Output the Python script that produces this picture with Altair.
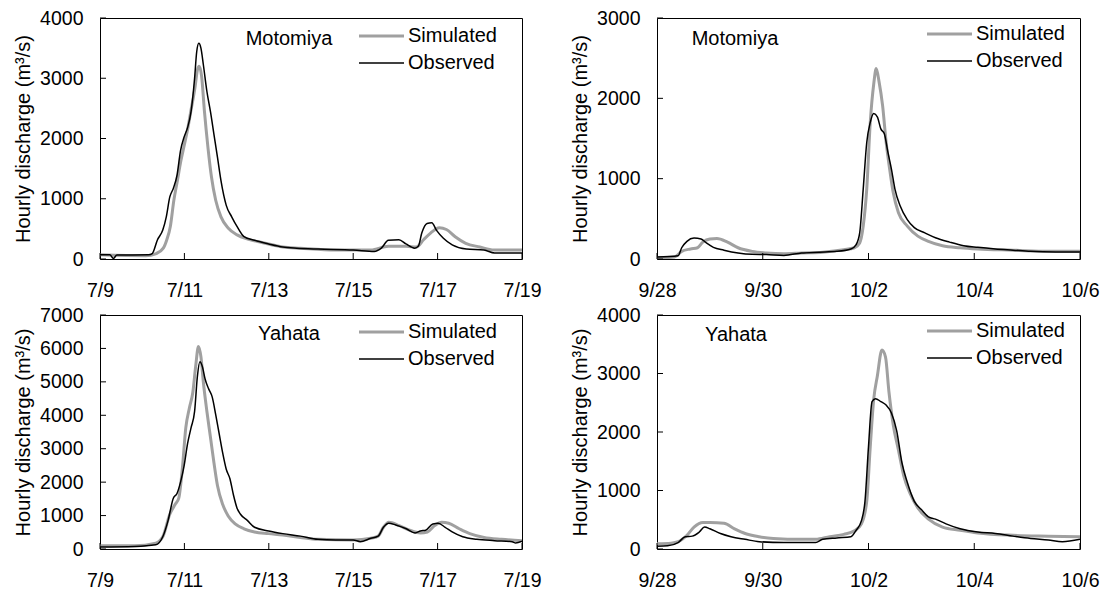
import altair as alt
import pandas as pd

FONT = "Liberation Sans, Arial, sans-serif"
TITLE_Y = "Hourly discharge (m\u00b3/s)"

# ---------------- data (hours from event start, discharge m3/s) ----------------
MOTO_JUL_SIM_H = [0, 26, 32, 36, 38, 40, 42, 44, 46, 48, 50, 52, 54, 55.4, 56.4, 57.8, 59.4, 61.4, 63.4,
                  65.8, 68.8, 73, 78, 84, 92, 104, 114, 134, 154, 164, 174, 180, 184, 188, 193, 197, 202,
                  208, 216, 224, 240]
MOTO_JUL_SIM_Q = [70, 55, 90, 180, 320, 540, 975, 1300, 1630, 1900, 2180, 2510, 2840, 3140, 3200, 3030, 2450,
                  1850, 1360, 975, 700, 510, 400, 330, 275, 200, 180, 150, 150, 210, 210, 200, 320, 430, 520,
                  490, 370, 260, 200, 150, 150]
MOTO_JUL_OBS_H = [0, 5.6, 7.6, 9.6, 27.7, 29.7, 32.7, 35.7, 37.7, 39.7, 41.7, 43.8, 45.8, 47.8, 49.8, 51.8,
                  53.8, 55, 56.2, 57.4, 58.8, 60.8, 62.8, 64.8, 66.8, 68.8, 71.8, 74.9, 77.9, 81.9, 87.9,
                  95.9, 104, 112, 124, 144, 156, 160, 164, 170, 174, 179, 181, 183, 186, 188.7, 191.3, 195.3,
                  200.3, 208.3, 218.4, 224.4, 240]
MOTO_JUL_OBS_Q = [70, 70, 10, 65, 70, 90, 320, 480, 700, 1030, 1170, 1390, 1800, 2020, 2180, 2450, 3000,
                  3440, 3580, 3500, 3220, 2780, 2450, 2070, 1690, 1300, 890, 700, 540, 370, 310, 250, 200,
                  180, 165, 150, 125, 180, 310, 320, 250, 180, 210, 430, 590, 600, 480, 345, 235, 165, 150,
                  100, 100]

MOTO_OCT_SIM_H = [0, 8, 11.2, 15.2, 18.4, 20.8, 24, 27.2, 32, 36.8, 43.2, 49.6, 57.6, 65.6, 75.2, 84.8, 89.6,
                  92, 93.6, 95.2, 96.8, 98.4, 99.5, 100.8, 102.4, 104, 105.6, 107.2, 109.6, 113.6, 118.4,
                  123.2, 129.6, 137.6, 145.6, 161.6, 177.6, 192]
MOTO_OCT_SIM_Q = [12, 25, 95, 125, 140, 210, 250, 255, 210, 140, 95, 75, 65, 75, 85, 115, 140, 200, 410, 870,
                  1700, 2185, 2370, 2205, 1910, 1455, 1120, 830, 575, 410, 285, 220, 165, 140, 125, 110, 95, 95]
MOTO_OCT_OBS_H = [0, 9.6, 11.2, 13.6, 16.8, 20, 22.4, 25.6, 30.4, 36.8, 43.2, 49.6, 57.6, 65.6, 73.6, 81.6,
                  88, 90.4, 92, 93.6, 95.2, 96.8, 98.4, 100, 101.6, 103.2, 104.8, 106.4, 108, 110.4, 113.6,
                  116.8, 121.6, 126.4, 132.8, 139.2, 145.6, 153.6, 161.6, 169.6, 180.8, 192]
MOTO_OCT_OBS_Q = [25, 40, 140, 220, 260, 250, 200, 145, 110, 75, 58, 55, 45, 75, 85, 95, 125, 180, 325, 870,
                  1450, 1700, 1810, 1770, 1620, 1560, 1330, 1120, 870, 660, 490, 390, 325, 265, 210, 165,
                  145, 125, 110, 95, 88, 88]

YAHA_JUL_SIM_H = [0, 19.7, 31.7, 35.7, 39.7, 42.7, 44.8, 46.8, 48.8, 50.8, 52.8, 54.4, 56, 57.4, 58.8, 60.8,
                  62.8, 64.8, 66.8, 69.8, 72.9, 76.9, 81.9, 87.9, 95.9, 104, 114, 124, 144, 154, 158.2, 161.2,
                  164.2, 170.2, 176.2, 182.2, 186.2, 190.3, 194.3, 198.3, 204.3, 210.3, 218.4, 228.4, 240]
YAHA_JUL_SIM_Q = [95, 95, 175, 365, 1040, 1330, 1520, 2385, 3630, 4210, 4690, 5460, 6060, 5750, 4980, 4115,
                  3350, 2580, 1900, 1330, 990, 750, 605, 510, 460, 415, 345, 290, 270, 320, 385, 650, 800,
                  700, 560, 480, 510, 700, 800, 770, 605, 460, 345, 290, 250]
YAHA_JUL_OBS_H = [0, 19.7, 31.7, 35.7, 38.7, 41.7, 43.8, 45.8, 47.8, 49.8, 51.8, 53.8, 55.4, 56.8, 58.2,
                  59.8, 61.8, 63.8, 65.8, 67.8, 69.8, 71.8, 73.9, 75.9, 77.9, 79.9, 83.9, 87.9, 95.9, 104, 114,
                  124, 134, 144, 148, 154, 158.2, 161.2, 164.2, 168.2, 174.2, 179.2, 182.2, 185.2, 189.3,
                  192.3, 196.3, 200.3, 206.3, 214.3, 224.4, 234.4, 236.4, 240]
YAHA_JUL_OBS_Q = [60, 75, 125, 365, 850, 1520, 1660, 2000, 2480, 3150, 3630, 4115, 5170, 5600, 5460, 5080,
                  4790, 4550, 4020, 3440, 2865, 2385, 2100, 1615, 1230, 1040, 850, 650, 540, 460, 385, 290,
                  270, 270, 220, 320, 385, 650, 770, 720, 605, 480, 540, 560, 750, 770, 650, 510, 365, 290,
                  250, 220, 180, 230]

YAHA_OCT_SIM_H = [0, 6.4, 9.6, 13.6, 16.8, 20.8, 24, 30.4, 35.2, 40, 46.4, 52.8, 65.6, 72, 78.4, 84.8, 89.6,
                  92.8, 95.2, 96.8, 98.4, 100, 102.1, 103.7, 105.3, 107.2, 109.6, 112, 115.2, 118.4, 123.2,
                  129.6, 137.6, 145.6, 161.6, 177.6, 192]
YAHA_OCT_SIM_Q = [90, 100, 125, 235, 375, 455, 455, 440, 345, 265, 210, 180, 165, 165, 210, 250, 310, 430,
                  815, 1750, 2570, 2955, 3400, 3285, 2680, 2130, 1690, 1250, 925, 700, 510, 375, 320, 275,
                  235, 220, 210]
YAHA_OCT_OBS_H = [0, 4.8, 9.6, 12.8, 16, 19.2, 21.6, 24, 28.8, 33.6, 40, 46.4, 57.6, 72, 75.2, 81.6, 88,
                  90.4, 92.8, 94.4, 96, 97.6, 99.2, 101.6, 104, 106.4, 108.8, 111.2, 113.6, 116.8, 120, 123.2,
                  126.4, 131.2, 137.6, 145.6, 153.6, 161.6, 169.6, 177.6, 184, 192]
YAHA_OCT_OBS_Q = [45, 55, 110, 210, 220, 290, 375, 345, 265, 210, 165, 125, 110, 110, 165, 190, 210, 320,
                  485, 815, 1750, 2520, 2570, 2520, 2460, 2325, 2020, 1470, 1140, 815, 675, 550, 510, 430,
                  345, 290, 265, 220, 180, 155, 125, 165]

STATIONS = ["Motomiya", "Motomiya", "Yahata", "Yahata"]
EVENT_START = ["2002-07-09", "2002-09-28", "2002-07-09", "2002-09-28"]
EVENT_DAYS = [10, 8, 10, 8]
Y_MAX = [4000, 3000, 7000, 4000]
Y_STEP = 1000
X_TICK_STEP_DAYS = 2
SERIES = ["Simulated", "Observed"]
SERIES_COLOR = ["#a0a0a0", "#000000"]
SERIES_WIDTH = [3, 1.5]
PANEL_DATA = [
    [(MOTO_JUL_SIM_H, MOTO_JUL_SIM_Q), (MOTO_JUL_OBS_H, MOTO_JUL_OBS_Q)],
    [(MOTO_OCT_SIM_H, MOTO_OCT_SIM_Q), (MOTO_OCT_OBS_H, MOTO_OCT_OBS_Q)],
    [(YAHA_JUL_SIM_H, YAHA_JUL_SIM_Q), (YAHA_JUL_OBS_H, YAHA_JUL_OBS_Q)],
    [(YAHA_OCT_SIM_H, YAHA_OCT_SIM_Q), (YAHA_OCT_OBS_H, YAHA_OCT_OBS_Q)],
]

# ---------------- layout (pixels) ----------------
PANEL_W = [422, 423, 422, 423]
PANEL_H = [241, 241, 234, 234]
LEG_X = [259, 270, 259, 270]
LEG_Y = [18, 16, 17, 16]
LEG_GAP = 27
LEG_LEN = 45
STATION_X = [189, 78, 189, 79]
STATION_Y = [21, 21, 19, 20]
TICK_LEN = 6
FS = 19.5


def dt(ts):
    return alt.DateTime(year=ts.year, month=ts.month, date=ts.day, hours=ts.hour)


def panel(i):
    w, h = PANEL_W[i], PANEL_H[i]
    start = pd.Timestamp(EVENT_START[i])
    end = start + pd.Timedelta(days=EVENT_DAYS[i])
    tick_times = [start + pd.Timedelta(days=d) for d in range(0, EVENT_DAYS[i] + 1, X_TICK_STEP_DAYS)]
    y_ticks = list(range(0, Y_MAX[i] + 1, Y_STEP))

    xscale = alt.Scale(domain=[dt(start), dt(end)])
    yscale = alt.Scale(domain=[0, Y_MAX[i]], nice=False, zero=True)
    xaxis = alt.Axis(values=[dt(t) for t in tick_times], format="%-m/%-d", title=None,
                     labelFlush=False, labelOverlap=False, labelPadding=22)
    yaxis = alt.Axis(values=y_ticks, format="d", title=TITLE_Y, labelPadding=17,
                     titlePadding=6, labelOverlap=False, labelSeparation=0)

    layers = []
    for s, (hrs, q) in enumerate(PANEL_DATA[i]):
        df = pd.DataFrame({"time": start + pd.to_timedelta(hrs, unit="h"), "value": q})
        layers.append(
            alt.Chart(df).mark_line(color=SERIES_COLOR[s], strokeWidth=SERIES_WIDTH[s],
                                    strokeJoin="round", interpolate="monotone", clip=True)
            .encode(x=alt.X("time:T", scale=xscale, axis=xaxis),
                    y=alt.Y("value:Q", scale=yscale, axis=yaxis))
        )

    # inward tick marks (same scales / axes as the lines)
    ydf = pd.DataFrame({"value": y_ticks})
    layers.append(alt.Chart(ydf).mark_rule(color="black", strokeWidth=1)
                  .encode(y=alt.Y("value:Q", scale=yscale, axis=yaxis),
                          x=alt.value(0), x2=alt.value(TICK_LEN)))
    xdf = pd.DataFrame({"time": tick_times})
    layers.append(alt.Chart(xdf).mark_rule(color="black", strokeWidth=1)
                  .encode(x=alt.X("time:T", scale=xscale, axis=xaxis),
                          y=alt.value(h), y2=alt.value(h - TICK_LEN)))

    # legend
    for s, name in enumerate(SERIES):
        ly = LEG_Y[i] + s * LEG_GAP
        ldf = pd.DataFrame({"label": [name]})
        layers.append(alt.Chart(ldf).mark_rule(color=SERIES_COLOR[s], strokeWidth=SERIES_WIDTH[s])
                      .encode(x=alt.value(LEG_X[i]), x2=alt.value(LEG_X[i] + LEG_LEN), y=alt.value(ly)))
        layers.append(alt.Chart(ldf).mark_text(align="left", baseline="middle", font=FONT, fontSize=20,
                                               color="black")
                      .encode(x=alt.value(LEG_X[i] + LEG_LEN + 4), y=alt.value(ly), text="label:N"))

    sdf = pd.DataFrame({"label": [STATIONS[i]]})
    layers.append(alt.Chart(sdf).mark_text(align="center", baseline="middle", font=FONT, fontSize=20,
                                           color="black")
                  .encode(x=alt.value(STATION_X[i]), y=alt.value(STATION_Y[i]), text="label:N"))

    return alt.layer(*layers).properties(width=w, height=h)


chart = (
    alt.concat(panel(0), panel(1), panel(2), panel(3), columns=2,
               spacing={"row": 56, "column": 135}, bounds="flush")
    .properties(padding={"left": 13, "top": 7, "right": 5, "bottom": 5}, background="white")
    .configure_view(stroke="black", strokeWidth=1, fill="white")
    .configure_axis(labelFont=FONT, titleFont=FONT, labelFontSize=FS, titleFontSize=20,
                    titleFontWeight="normal", labelColor="black", titleColor="black",
                    ticks=False, domain=False, grid=False, labelOverlap=False)
)

chart.save("out.html", embed_options={"renderer": "svg", "actions": False})
